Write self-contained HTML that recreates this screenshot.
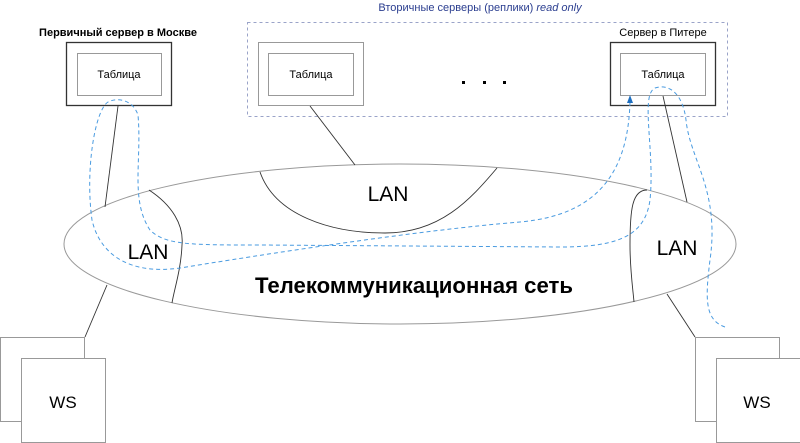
<!DOCTYPE html>
<html><head><meta charset="utf-8"><style>
html,body{margin:0;padding:0;background:#fff;}
svg{display:block;font-family:"Liberation Sans",sans-serif;}
</style></head><body>
<svg width="800" height="443" viewBox="0 0 800 443" xmlns="http://www.w3.org/2000/svg">
<text x="480" y="11" text-anchor="middle" font-size="11" fill="#2a3d8f">Вторичные серверы (реплики) <tspan font-style="italic">read only</tspan></text>
<rect x="247.5" y="22.5" width="480" height="94" fill="none" stroke="#9aa3c8" stroke-dasharray="3,3"/>
<text x="118" y="36" text-anchor="middle" font-size="11" font-weight="bold">Первичный сервер в Москве</text>
<rect x="66.5" y="42.5" width="105" height="63" fill="none" stroke="#333" stroke-width="1.3"/>
<rect x="77.5" y="53.5" width="84" height="42" fill="none" stroke="#999"/>
<text x="119" y="78" text-anchor="middle" font-size="11">Таблица</text>
<rect x="258.5" y="42.5" width="105" height="63" fill="none" stroke="#999"/>
<rect x="268.5" y="53.5" width="85" height="42" fill="none" stroke="#999"/>
<text x="311" y="78" text-anchor="middle" font-size="11">Таблица</text>
<rect x="462" y="81" width="3" height="3"/><rect x="483" y="81" width="3" height="3"/><rect x="503" y="81" width="3" height="3"/>
<text x="663" y="36" text-anchor="middle" font-size="11">Сервер в Питере</text>
<rect x="610.5" y="42.5" width="105" height="63" fill="none" stroke="#333" stroke-width="1.3"/>
<rect x="620.5" y="53.5" width="85" height="42" fill="none" stroke="#999"/>
<text x="663" y="78" text-anchor="middle" font-size="11">Таблица</text>
<ellipse cx="400" cy="244" rx="336" ry="80" fill="none" stroke="#999"/>
<g stroke="#333" fill="none" stroke-width="0.9">
<line x1="118" y1="106" x2="105" y2="207"/>
<line x1="310" y1="106" x2="355" y2="165"/>
<line x1="663" y1="96" x2="687" y2="202"/>
<path d="M149,190 C172,205 184,225 182,245 C181,270 174,290 172,303"/>
<path d="M260,172 C275,215 330,233 385,233 C440,233 470,200 497,168"/>
<path d="M647,190 C632,190 630,210 630,245 C630,270 633,290 634,302"/>
<line x1="107" y1="285" x2="85" y2="337"/>
<line x1="667" y1="294" x2="695" y2="337"/>
</g>
<text x="148" y="259" text-anchor="middle" font-size="21">LAN</text>
<text x="388" y="201" text-anchor="middle" font-size="21">LAN</text>
<text x="677" y="255" text-anchor="middle" font-size="21">LAN</text>
<text x="414" y="293" text-anchor="middle" font-size="22" font-weight="bold" textLength="318" lengthAdjust="spacingAndGlyphs">Телекоммуникационная сеть</text>
<g fill="#fff" stroke="#999">
<rect x="0.5" y="337.5" width="84" height="84"/>
<rect x="21.5" y="358.5" width="84" height="84"/>
<rect x="695.5" y="337.5" width="84" height="84"/>
<rect x="716.5" y="358.5" width="84" height="84"/>
</g>
<text x="63" y="408" text-anchor="middle" font-size="17">WS</text>
<text x="757" y="408" text-anchor="middle" font-size="17">WS</text>
<path d="M630,102 C628,170 600,215 520,222 C420,230 260,255 180,268 C130,275 100,255 92,220 C85,170 95,110 108,102 C118,97 133,100 138,115 C142,160 130,200 150,230 C165,245 190,245 260,245 L560,247 C620,247 645,235 650,200 C655,150 640,95 655,88 C670,83 683,95 686,120 C690,160 720,190 710,260 C705,300 705,320 725,327" fill="none" stroke="#4a9be0" stroke-dasharray="4,3"/>
<path d="M630,95 L627,103 L633,103 Z" fill="#1f6fc0"/>
</svg>
</body></html>
